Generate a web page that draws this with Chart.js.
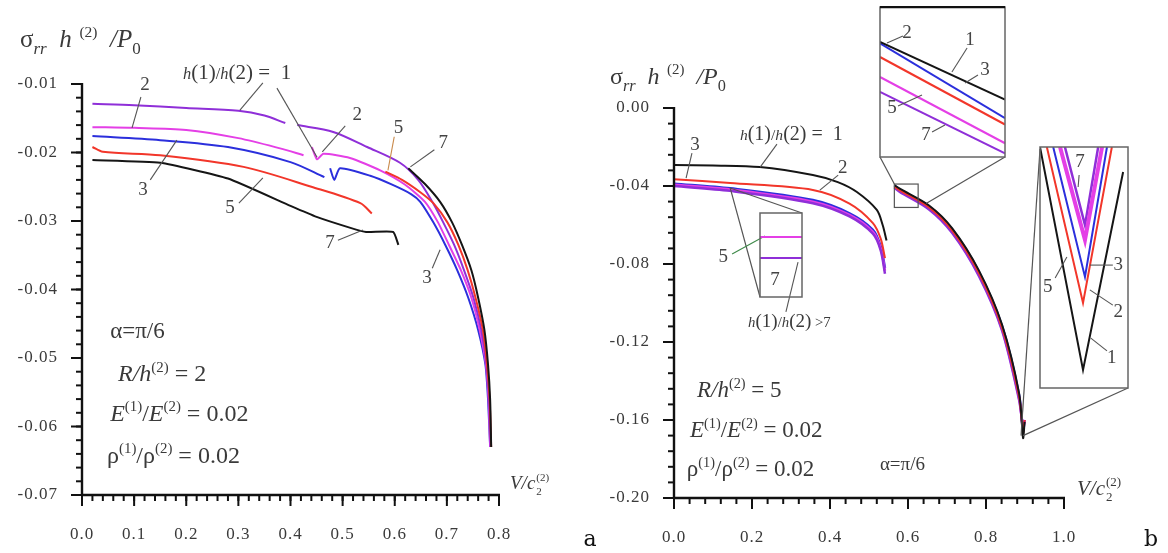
<!DOCTYPE html>
<html>
<head>
<meta charset="utf-8">
<script src="https://cdn.jsdelivr.net/npm/chart.js@4.4.0/dist/chart.umd.min.js"></script>
<style>
  body{margin:0;background:#fff;}
  #wrap{position:relative;width:1168px;height:553px;overflow:hidden;background:#fff;}
  canvas{position:absolute;}
</style>
</head>
<body>
<div id="wrap">
  <canvas id="chartA" width="620" height="553" style="left:0;top:0"></canvas>
  <canvas id="chartB" width="584" height="553" style="left:584px;top:0"></canvas>
  <canvas id="insetTop" width="127" height="152" style="left:879px;top:6px"></canvas>
  <canvas id="insetRight" width="90" height="243" style="left:1039px;top:146px"></canvas>
  <canvas id="insetSmall" width="44" height="86" style="left:759px;top:212px"></canvas>
</div>
<script>
// ---- panel a : R/h(2) = 2 ----
// h1/h2 = 1
const a1LoV = [0.02, 0.10, 0.20, 0.30, 0.35, 0.39];
const a1LoS = [-0.0129, -0.0131, -0.0135, -0.0139, -0.0146, -0.0157];
const a1HiV = [0.413, 0.482, 0.547, 0.610, 0.645, 0.672, 0.693, 0.714, 0.733, 0.751, 0.766, 0.776, 0.781, 0.784];
const a1HiS = [-0.0160, -0.0170, -0.0192, -0.0215, -0.0240, -0.0272, -0.0302, -0.0335, -0.0372, -0.0412, -0.0459, -0.0510, -0.0561, -0.0630];
// h1/h2 = 2
const a2LoV = [0.02, 0.10, 0.20, 0.30, 0.38, 0.425];
const a2LoS = [-0.0163, -0.0164, -0.0167, -0.0179, -0.0194, -0.0204];
const a2HiV = [0.441, 0.451, 0.463, 0.514, 0.572, 0.620, 0.658, 0.683, 0.704, 0.727, 0.747, 0.763, 0.775, 0.780, 0.783];
const a2HiS = [-0.0192, -0.0210, -0.0202, -0.0208, -0.0226, -0.0247, -0.0272, -0.0302, -0.0335, -0.0372, -0.0412, -0.0459, -0.0510, -0.0561, -0.0630];
// h1/h2 = 3
const a3LoV = [0.02, 0.15, 0.28, 0.40, 0.465];
const a3LoS = [-0.0176, -0.0182, -0.0192, -0.0214, -0.0236];
const a3HiV = [0.476, 0.484, 0.495, 0.553, 0.595, 0.632, 0.649, 0.674, 0.697, 0.720, 0.741, 0.760, 0.774, 0.779, 0.783];
const a3HiS = [-0.0223, -0.0240, -0.0223, -0.0234, -0.0247, -0.0261, -0.0272, -0.0302, -0.0335, -0.0372, -0.0412, -0.0459, -0.0510, -0.0561, -0.0630];
// h1/h2 = 5
const a5LoV = [0.02, 0.04, 0.15, 0.31, 0.44, 0.534, 0.556];
const a5LoS = [-0.0192, -0.0199, -0.0204, -0.0221, -0.0250, -0.0274, -0.0289];
const a5HiV = [0.582, 0.614, 0.649, 0.674, 0.701, 0.722, 0.740, 0.755, 0.769, 0.777, 0.782, 0.785];
const a5HiS = [-0.0228, -0.0240, -0.0258, -0.0274, -0.0302, -0.0335, -0.0372, -0.0412, -0.0459, -0.0510, -0.0561, -0.0630];
// h1/h2 = 7
const a7LoV = [0.02, 0.15, 0.28, 0.40, 0.45, 0.515, 0.545, 0.597, 0.607];
const a7LoS = [-0.0211, -0.0215, -0.0238, -0.0278, -0.0294, -0.0310, -0.0316, -0.0316, -0.0335];
const a7HiV = [0.626, 0.658, 0.687, 0.710, 0.729, 0.747, 0.760, 0.772, 0.779, 0.783, 0.785];
const a7HiS = [-0.0223, -0.0246, -0.0272, -0.0302, -0.0335, -0.0372, -0.0412, -0.0459, -0.0510, -0.0561, -0.0630];

const aXTicks = [0, 0.1, 0.2, 0.3, 0.4, 0.5, 0.6, 0.7, 0.8];
const aXLabels = ['0.0', '0.1', '0.2', '0.3', '0.4', '0.5', '0.6', '0.7', '0.8'];
const aYTicks = [-0.01, -0.02, -0.03, -0.04, -0.05, -0.06, -0.07];
const aYLabels = ['-0.01', '-0.02', '-0.03', '-0.04', '-0.05', '-0.06', '-0.07'];

// ---- panel b : R/h(2) = 5 ----
const bLoV = [0.0, 0.144, 0.356, 0.45, 0.51, 0.53, 0.541];
const b1LoV = [0.0, 0.10, 0.22, 0.356, 0.42, 0.469, 0.52, 0.535, 0.545];
const b1LoS = [-0.0292, -0.0295, -0.0303, -0.0344, -0.0380, -0.0431, -0.0523, -0.0600, -0.0680];
const b2LoS = [-0.0365, -0.0385, -0.0420, -0.0490, -0.0590, -0.0670, -0.0770];
const b3LoS = [-0.0388, -0.0412, -0.0472, -0.0540, -0.0625, -0.0710, -0.0820];
const b5LoS = [-0.0393, -0.0418, -0.0480, -0.0548, -0.0635, -0.0720, -0.0835];
const b7LoS = [-0.0400, -0.0425, -0.0488, -0.0556, -0.0645, -0.0730, -0.0850];
const bHiV = [0.565, 0.579, 0.654, 0.713, 0.782, 0.841, 0.885, 0.895, 0.899];
const b1HiS = [-0.0395, -0.0414, -0.0500, -0.0616, -0.0834, -0.1110, -0.1465, -0.1692, -0.1610];
const b2HiS = [-0.0402, -0.0422, -0.0510, -0.0628, -0.0848, -0.1126, -0.1482, -0.1665, -0.1600];
const b3HiS = [-0.0398, -0.0418, -0.0505, -0.0622, -0.0841, -0.1118, -0.1474, -0.1654, -0.1600];
const b5HiS = [-0.0405, -0.0426, -0.0515, -0.0634, -0.0855, -0.1133, -0.1490, -0.1638, -0.1600];
const b7HiS = [-0.0408, -0.0430, -0.0520, -0.0640, -0.0862, -0.1140, -0.1498, -0.1632, -0.1600];

const bXTicks = [0, 0.2, 0.4, 0.6, 0.8, 1.0];
const bXLabels = ['0.0', '0.2', '0.4', '0.6', '0.8', '1.0'];
const bYTicks = [0, -0.04, -0.08, -0.12, -0.16, -0.20];
const bYLabels = ['0.00', '-0.04', '-0.08', '-0.12', '-0.16', '-0.20'];

// zoomed views in panel b
const topV = [0.565, 0.626];
const top1S = [-0.0418, -0.0464];
const top3S = [-0.0419, -0.0479];
const top2S = [-0.0430, -0.0484];
const top5S = [-0.0446, -0.0499];
const top7S = [-0.0458, -0.0507];

const rt1V = [0.8860, 0.8948, 0.9030];
const rt1S = [-0.1600, -0.16925, -0.16104];
const rt2V = [0.8874, 0.8948, 0.9007];
const rt2S = [-0.1600, -0.16647, -0.1600];
const rt3V = [0.8887, 0.8952, 0.8997];
const rt3S = [-0.1600, -0.16539, -0.1600];
const rt5V = [0.8901, 0.8952, 0.8987];
const rt5S = [-0.1600, -0.16386, -0.1600];
const rt7V = [0.8911, 0.8952, 0.8979];
const rt7S = [-0.1600, -0.16324, -0.1600];

const smV = [0.13, 0.15];
const sm5S = [-0.04086, -0.04086];
const sm7S = [-0.04161, -0.04161];

const VIOLET = '#8f2fd8', MAGENTA = '#e43fe6', BLUE = '#2b2fdc', RED = '#f2362a', BLACK = '#151515';
const SERIF = '"Liberation Serif", "Times New Roman", serif';
const INK = '#3a3a3a';

function pts(vs, ss){
  return vs.map((v, i) => ({x: v, y: ss[i]}));
}

function curve(label, vs, ss, color, width, tension){
  return {
    label: label,
    data: pts(vs, ss),
    borderColor: color,
    borderWidth: width || 2,
    showLine: true,
    pointRadius: 0,
    tension: tension === undefined ? 0.3 : tension
  };
}

// text with italic / sub / sup pieces
function rich(ctx, x, y, parts, base, align){
  ctx.letterSpacing = '0px';
  const segs = parts.map(p => {
    const k = p[1] || '';
    let size = base, dy = 0;
    if(k.includes('b')){ size = base * 0.68; dy = base * 0.28; }
    if(k.includes('p')){ size = base * 0.62; dy = -base * 0.40; }
    if(k.includes('s')){ size = base * 0.78; }
    const f = (k.includes('i') ? 'italic ' : '') + size.toFixed(1) + 'px ' + SERIF;
    ctx.font = f;
    return {t: p[0], f: f, dy: dy, w: ctx.measureText(p[0]).width};
  });
  const total = segs.reduce((a, s) => a + s.w, 0);
  let cx = align === 'center' ? x - total / 2 : align === 'right' ? x - total : x;
  ctx.textAlign = 'left';
  ctx.textBaseline = 'alphabetic';
  segs.forEach(s => { ctx.font = s.f; ctx.fillText(s.t, cx, y + s.dy); cx += s.w; });
}

function seg(ctx, x1, y1, x2, y2){
  ctx.beginPath(); ctx.moveTo(x1, y1); ctx.lineTo(x2, y2); ctx.stroke();
}

function xAxisTitle(ctx, x, y, size){
  ctx.fillStyle = INK;
  ctx.letterSpacing = '0px';
  ctx.textAlign = 'left'; ctx.textBaseline = 'alphabetic';
  ctx.font = 'italic ' + size + 'px ' + SERIF;
  ctx.fillText('V/c', x, y);
  const w = ctx.measureText('V/c').width;
  ctx.font = Math.round(size * 0.6) + 'px ' + SERIF;
  ctx.fillText('(2)', x + w + 1, y - size * 0.42);
  ctx.fillText('2', x + w + 1, y + size * 0.3);
}

// axes with long major and short minor ticks, labels in serif
function frame(chart, ax){
  const {ctx, chartArea: ca, scales: {x, y}} = chart;
  ctx.save();
  ctx.strokeStyle = '#111';
  ctx.lineWidth = 2.4;
  seg(ctx, ca.left, ca.top - 1, ca.left, ca.bottom + 1);
  seg(ctx, ca.left - 1, ca.bottom, ca.right + 1, ca.bottom);
  ctx.lineWidth = 2;
  const nx = Math.round((x.max - x.min) / ax.xMinor);
  for(let i = 0; i <= nx; i++){
    const px = x.getPixelForValue(x.min + i * ax.xMinor);
    seg(ctx, px, ca.bottom, px, ca.bottom + 6);
  }
  ax.xTicks.forEach(v => { const px = x.getPixelForValue(v); seg(ctx, px, ca.bottom, px, ca.bottom + 11); });
  const ny = Math.round((y.max - y.min) / ax.yMinor);
  for(let i = 0; i <= ny; i++){
    const py = y.getPixelForValue(y.min + i * ax.yMinor);
    seg(ctx, ca.left - 6, py, ca.left, py);
  }
  ax.yTicks.forEach(v => { const py = y.getPixelForValue(v); seg(ctx, ca.left - 11, py, ca.left, py); });

  ctx.fillStyle = INK;
  ctx.font = '17px ' + SERIF;
  ctx.letterSpacing = '1px';
  ctx.textAlign = 'center'; ctx.textBaseline = 'alphabetic';
  ax.xTicks.forEach((v, i) => ctx.fillText(ax.xLabels[i], x.getPixelForValue(v), ca.bottom + 44));
  ctx.textAlign = 'right'; ctx.textBaseline = 'middle';
  ax.yTicks.forEach((v, i) => ctx.fillText(ax.yLabels[i], ca.left - 24, y.getPixelForValue(v)));
  ctx.restore();
}

// curve number with a thin leader line, both given in data units
function tag(chart, txt, v, s, from, to, color){
  const {ctx, scales: {x, y}} = chart;
  ctx.save();
  ctx.strokeStyle = color || '#555';
  ctx.lineWidth = 1.1;
  if(from) seg(ctx, x.getPixelForValue(from[0]), y.getPixelForValue(from[1]), x.getPixelForValue(to[0]), y.getPixelForValue(to[1]));
  ctx.fillStyle = '#444';
  ctx.font = '19px ' + SERIF;
  ctx.letterSpacing = '0px';
  ctx.textAlign = 'center'; ctx.textBaseline = 'middle';
  ctx.fillText(txt, x.getPixelForValue(v), y.getPixelForValue(s));
  ctx.restore();
}

function note(chart, v, s, parts, base){
  const {ctx, scales: {x, y}} = chart;
  ctx.save();
  ctx.fillStyle = INK;
  rich(ctx, x.getPixelForValue(v), y.getPixelForValue(s), parts, base, 'left');
  ctx.restore();
}

const hRatio = [['h', 'is'], ['(1)', ''], ['/', 's'], ['h', 'is'], ['(2)', '']];
const stressTitle = [['σ', ''], ['rr', 'ib'], ['  h', 'i'], ['  (2)', 'p'], ['  /P', 'i'], ['0', 'b']];
const eRatio = [['E', 'i'], ['(1)', 'p'], ['/', ''], ['E', 'i'], ['(2)', 'p'], [' = 0.02', '']];
const rhoRatio = [['ρ', ''], ['(1)', 'p'], ['/ρ', ''], ['(2)', 'p'], [' = 0.02', '']];

const decoA = {
  id: 'decoA',
  afterDraw(chart){
    frame(chart, {xTicks: aXTicks, xLabels: aXLabels, xMinor: 0.02, yTicks: aYTicks, yLabels: aYLabels, yMinor: 0.002});
    const {ctx, chartArea: ca} = chart;
    ctx.save();
    ctx.fillStyle = INK;
    rich(ctx, ca.left - 62, ca.top - 37, stressTitle, 25, 'left');
    xAxisTitle(ctx, ca.right + 11, ca.bottom - 6, 19);
    ctx.fillStyle = '#111';
    ctx.font = '22px "DejaVu Serif", serif';
    ctx.textAlign = 'center'; ctx.textBaseline = 'alphabetic';
    ctx.fillText('a', 590, 546);
    ctx.restore();

    note(chart, 0.194, -0.00927, hRatio.concat([[' =  1', '']]), 21);
    tag(chart, '', 0, 0, [0.347, -0.00985], [0.303, -0.0138]);
    tag(chart, '', 0, 0, [0.374, -0.0106], [0.451, -0.0207]);
    tag(chart, '2', 0.121, -0.0101, [0.113, -0.0119], [0.096, -0.0164]);
    tag(chart, '3', 0.117, -0.0255, [0.131, -0.0240], [0.182, -0.0182]);
    tag(chart, '5', 0.284, -0.0281, [0.301, -0.0274], [0.347, -0.0237]);
    tag(chart, '7', 0.476, -0.0332, [0.491, -0.0328], [0.539, -0.0313]);
    tag(chart, '2', 0.528, -0.0145, [0.505, -0.0161], [0.461, -0.0199]);
    tag(chart, '5', 0.607, -0.0164, [0.599, -0.0177], [0.587, -0.0226], '#c98a4b');
    tag(chart, '7', 0.693, -0.0186, [0.676, -0.0196], [0.630, -0.0221]);
    tag(chart, '3', 0.662, -0.0383, [0.672, -0.0369], [0.687, -0.0342]);

    note(chart, 0.054, -0.0471, [['α=π/6', '']], 23);
    note(chart, 0.069, -0.0534, [['R/h', 'i'], ['(2)', 'p'], [' = 2', '']], 24);
    note(chart, 0.054, -0.0592, eRatio, 24);
    note(chart, 0.048, -0.0653, rhoRatio, 24);
  }
};

// page boxes of the zoomed views; panel b canvas starts at B_LEFT
const B_LEFT = 584;
const boxTop = {l: 880, t: 7, r: 1005, b: 157};
const boxRight = {l: 1040, t: 147, r: 1128, b: 388};
const boxSmall = {l: 760, t: 213, r: 802, b: 297};

const decoB = {
  id: 'decoB',
  afterDraw(chart){
    frame(chart, {xTicks: bXTicks, xLabels: bXLabels, xMinor: 0.04, yTicks: bYTicks, yLabels: bYLabels, yMinor: 0.008});
    const {ctx, chartArea: ca, scales: {x, y}} = chart;
    ctx.save();
    ctx.fillStyle = INK;
    rich(ctx, ca.left - 64, ca.top - 24, stressTitle, 24, 'left');
    xAxisTitle(ctx, ca.right + 13, ca.bottom - 3, 21);
    ctx.fillStyle = '#111';
    ctx.font = '22px "DejaVu Serif", serif';
    ctx.textAlign = 'center'; ctx.textBaseline = 'alphabetic';
    ctx.fillText('b', 1151 - B_LEFT, 546);

    // small square around the start of the fast branch and its zoom lines
    ctx.strokeStyle = '#555';
    ctx.lineWidth = 1.2;
    const sx1 = x.getPixelForValue(0.565), sx2 = x.getPixelForValue(0.626);
    const sy1 = y.getPixelForValue(-0.039), sy2 = y.getPixelForValue(-0.051);
    ctx.strokeRect(sx1, sy1, sx2 - sx1, sy2 - sy1);
    seg(ctx, boxTop.l - B_LEFT, boxTop.b, sx1, sy1);
    seg(ctx, boxTop.r - B_LEFT, boxTop.b, sx2 + 8, sy2 - 4);
    // lines to the notch view
    const nx = x.getPixelForValue(0.895), ny = y.getPixelForValue(-0.168);
    seg(ctx, boxRight.l - B_LEFT, boxRight.t + 2, nx - 2, ny);
    seg(ctx, boxRight.r - B_LEFT, boxRight.b, nx, ny);
    // lines to the small view on the slow branch
    const px = x.getPixelForValue(0.144), py = y.getPixelForValue(-0.041);
    seg(ctx, px, py, boxSmall.r - B_LEFT, boxSmall.t);
    seg(ctx, px, py, boxSmall.l - B_LEFT, boxSmall.b);
    ctx.restore();

    note(chart, 0.169, -0.0164, hRatio.concat([[' =  1', '']]), 20);
    tag(chart, '', 0, 0, [0.264, -0.0185], [0.221, -0.0303]);
    tag(chart, '3', 0.054, -0.0190, [0.046, -0.0231], [0.031, -0.0359]);
    tag(chart, '2', 0.433, -0.0308, [0.421, -0.0344], [0.374, -0.0421]);
    tag(chart, '5', 0.126, -0.0764, [0.149, -0.0749], [0.233, -0.0656], '#3f8a4a');
    tag(chart, '', 0, 0, [0.287, -0.1046], [0.318, -0.0790]);
    note(chart, 0.190, -0.1123, hRatio.concat([[' >7', 's']]), 19);

    note(chart, 0.059, -0.1482, [['R/h', 'i'], ['(2)', 'p'], [' = 5', '']], 23);
    note(chart, 0.041, -0.1687, eRatio, 23);
    note(chart, 0.033, -0.1887, rhoRatio, 23);
    note(chart, 0.528, -0.1856, [['α=π/6', '']], 19);
  }
};

function boxPlugin(id, labels, heavyTop){
  return {
    id: id,
    afterDraw(chart){
      const {ctx, chartArea: ca} = chart;
      ctx.save();
      ctx.strokeStyle = '#666';
      ctx.lineWidth = 1.5;
      ctx.strokeRect(ca.left, ca.top, ca.right - ca.left, ca.bottom - ca.top);
      if(heavyTop){
        ctx.strokeStyle = '#111';
        ctx.lineWidth = 2.5;
        seg(ctx, ca.left, ca.top, ca.right, ca.top);
      }
      ctx.restore();
      labels.forEach(l => tag(chart, l[0], l[1], l[2], l[3], l[4]));
    }
  };
}

function makeChart(id, datasets, xr, yr, pad, plugin){
  return new Chart(document.getElementById(id), {
    type: 'scatter',
    data: {datasets: datasets},
    options: {
      responsive: false,
      animation: false,
      devicePixelRatio: 1,
      events: [],
      layout: {padding: pad},
      scales: {
        x: {type: 'linear', min: xr[0], max: xr[1], display: false},
        y: {type: 'linear', min: yr[0], max: yr[1], display: false}
      },
      plugins: {legend: {display: false}, tooltip: {enabled: false}}
    },
    plugins: [plugin]
  });
}

// first dataset in each list is drawn on top
makeChart('chartA', [
  curve('7', a7LoV, a7LoS, BLACK, 2, 0.15), curve('7', a7HiV, a7HiS, BLACK),
  curve('5', a5LoV, a5LoS, RED), curve('5', a5HiV, a5HiS, RED),
  curve('1', a1LoV, a1LoS, VIOLET), curve('1', a1HiV, a1HiS, VIOLET),
  curve('2', a2LoV, a2LoS, MAGENTA), curve('2', a2HiV, a2HiS, MAGENTA, 2, 0.2),
  curve('3', a3LoV, a3LoS, BLUE), curve('3', a3HiV, a3HiS, BLUE, 2, 0.2)
], [0, 0.8], [-0.07, -0.01], {left: 82, right: 121, top: 84, bottom: 58}, decoA);

makeChart('chartB', [
  curve('1', b1LoV, b1LoS, BLACK), curve('2', bLoV, b2LoS, RED),
  curve('7', bLoV, b7LoS, VIOLET, 2.5), curve('5', bLoV, b5LoS, MAGENTA, 2.5), curve('3', bLoV, b3LoS, BLUE, 2.5),
  curve('1', bHiV, b1HiS, BLACK), curve('2', bHiV, b2HiS, RED),
  curve('7', bHiV, b7HiS, VIOLET, 2.5), curve('5', bHiV, b5HiS, MAGENTA, 2.5), curve('3', bHiV, b3HiS, BLUE, 2.5)
], [0, 1.0], [-0.20, 0], {left: 90, right: 104, top: 108, bottom: 55}, decoB);

makeChart('insetTop', [
  curve('1', topV, top1S, BLACK, 2, 0), curve('3', topV, top3S, BLUE, 2, 0), curve('2', topV, top2S, RED, 2, 0),
  curve('5', topV, top5S, MAGENTA, 2, 0), curve('7', topV, top7S, VIOLET, 2, 0)
], [0.565, 0.626], [-0.051, -0.039], {left: 1, right: 1, top: 1, bottom: 1}, boxPlugin('boxTop', [
  ['2', 0.5782, -0.04108, [0.5762, -0.04132], [0.5684, -0.04188]],
  ['1', 0.6089, -0.04164, [0.6075, -0.04228], [0.6001, -0.0442]],
  ['3', 0.6162, -0.04404, [0.6128, -0.04444], [0.6065, -0.04508]],
  ['5', 0.5709, -0.04708, [0.5738, -0.04692], [0.5855, -0.04604]],
  ['7', 0.5874, -0.04924, [0.5904, -0.0490], [0.5967, -0.04844]]
], true));

makeChart('insetRight', [
  curve('1', rt1V, rt1S, BLACK, 2, 0), curve('2', rt2V, rt2S, RED, 2, 0), curve('3', rt3V, rt3S, BLUE, 2, 0),
  curve('5', rt5V, rt5S, MAGENTA, 4, 0), curve('7', rt7V, rt7S, VIOLET, 2.5, 0)
], [0.886, 0.904], [-0.170, -0.160], {left: 1, right: 1, top: 1, bottom: 1}, boxPlugin('boxRight', [
  ['7', 0.8942, -0.16062, [0.8940, -0.16116], [0.8938, -0.16166]],
  ['5', 0.8876, -0.16581, [0.8891, -0.16544], [0.8915, -0.16456]],
  ['3', 0.9020, -0.1649, [0.9009, -0.1649], [0.8962, -0.1649]],
  ['2', 0.9020, -0.16685, [0.9009, -0.16656], [0.8962, -0.16593]],
  ['1', 0.9007, -0.16876, [0.8997, -0.16846], [0.8964, -0.16793]]
], false));

makeChart('insetSmall', [
  curve('5', smV, sm5S, MAGENTA, 2, 0), curve('7', smV, sm7S, VIOLET, 2, 0)
], [0.13, 0.15], [-0.0430, -0.0400], {left: 1, right: 1, top: 1, bottom: 1}, boxPlugin('boxSmall', [
  ['7', 0.1371, -0.04239, null, null]
], false));
</script>
</body>
</html>
